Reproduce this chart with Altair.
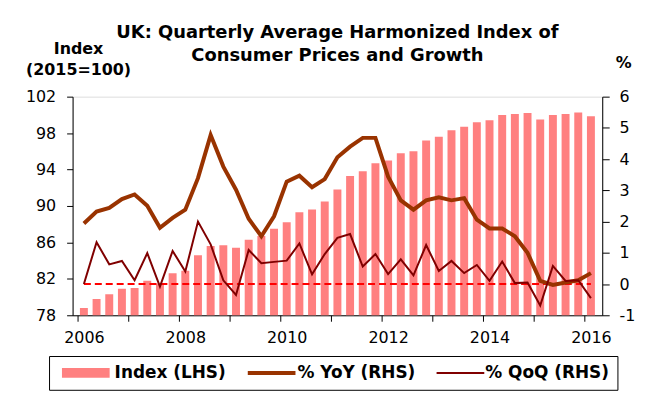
import altair as alt
import pandas as pd

# ---- data ----
years = list(range(2006, 2017))
quarters = [f"{y}Q{q}" for y in years for q in range(1, 5)][:41]  # 2006Q1 .. 2016Q1

index_lhs = [78.8, 79.8, 80.3, 80.9, 81.0, 81.8, 81.5, 82.6, 82.9, 84.6,
             85.6, 85.7, 85.4, 86.3, 86.7, 87.5, 88.2, 89.3, 89.6, 90.5,
             91.8, 93.3, 93.8, 94.7, 95.0, 95.8, 96.0, 97.2, 97.6, 98.3,
             98.7, 99.2, 99.4, 100.0, 100.1, 100.2, 99.5, 100.0, 100.1, 100.25,
             99.85]
yoy = [1.94, 2.32, 2.44, 2.72, 2.87, 2.51, 1.80, 2.12, 2.38, 3.39,
       4.77, 3.76, 3.02, 2.09, 1.53, 2.17, 3.28, 3.47, 3.10, 3.36,
       4.06, 4.40, 4.68, 4.68, 3.44, 2.68, 2.38, 2.68, 2.78, 2.68,
       2.75, 2.06, 1.78, 1.78, 1.53, 1.00, 0.10, -0.03, 0.05, 0.12,
       0.35]
qoq = [0.00, 1.34, 0.63, 0.74, 0.12, 0.99, -0.08, 1.06, 0.40, 2.00,
       1.27, 0.12, -0.35, 1.09, 0.67, 0.71, 0.75, 1.30, 0.31, 0.96,
       1.48, 1.60, 0.56, 0.96, 0.32, 0.79, 0.28, 1.25, 0.42, 0.74,
       0.35, 0.61, 0.10, 0.72, 0.03, 0.05, -0.69, 0.58, 0.10, 0.12,
       -0.45]

series_names = ["Index (LHS)", "% YoY (RHS)", "% QoQ (RHS)"]
series_colors = ["#FF8080", "#993300", "#800000"]
series_widths = [10, 4, 2]

left_ticks = [78, 82, 86, 90, 94, 98, 102]
right_ticks = [-1, 0, 1, 2, 3, 4, 5, 6]
year_labels = [2006, 2008, 2010, 2012, 2014, 2016]

# ---- tables ----
t = [int(q[:4]) + (int(q[-1]) - 1) / 4 for q in quarters]
bars_df = pd.DataFrame({"t": t, "value": index_lhs})
lines_df = pd.concat([
    pd.DataFrame({"t": t, "value": yoy, "series": series_names[1]}),
    pd.DataFrame({"t": t, "value": qoq, "series": series_names[2]}),
])
zero_df = pd.DataFrame({"t0": [t[0]], "t1": [t[-1]], "z": [0]})

FONT = "DejaVu Sans"
x_domain = [t[0] - 0.125, t[-1] + 0.125]
x_scale = alt.Scale(domain=x_domain, nice=False, zero=False)
year_bounds = [y - 0.125 for y in years]  # tick marks between Q4 and Q1

# axis with the year labels only
label_axis = alt.Axis(
    orient="bottom", values=year_labels, format="d", ticks=False, tickSize=0,
    domain=False, labelPadding=14, labelFont=FONT, labelFontSize=16,
    labelColor="black", grid=False, title=None, labelOverlap=False, labelFlush=False,
)
# axis with the domain line and the tick marks between years
tick_axis = alt.Axis(
    orient="bottom", values=year_bounds, labels=False, ticks=True, tickSize=6,
    tickColor="black", domainColor="black", grid=False, title=None,
)

bars = alt.Chart(bars_df).mark_bar(size=8, color=series_colors[0], clip=True).encode(
    x=alt.X("t:Q", scale=x_scale, axis=label_axis),
    y=alt.Y("value:Q",
            scale=alt.Scale(domain=[78, 102], nice=False, zero=False),
            axis=alt.Axis(orient="left", values=left_ticks, tickSize=6, labelPadding=11,
                          tickColor="black", domainColor="black", grid=False,
                          labelFont=FONT, labelFontSize=16, labelColor="black",
                          title=["Index", "(2015=100)"], titleAngle=0, titleAlign="center",
                          titleBaseline="alphabetic", titleX=5.5, titleY=-43,
                          titleLineHeight=21, titleFont=FONT, titleFontSize=16,
                          titleFontWeight="bold", titleColor="black")),
)

zero_line = alt.Chart(zero_df).mark_rule(color="#FF0000", strokeWidth=2, strokeDash=[7, 4]).encode(
    x=alt.X("t0:Q", scale=x_scale, axis=tick_axis),
    x2="t1:Q",
    y=alt.Y("z:Q", scale=alt.Scale(domain=[-1, 6], nice=False, zero=False), axis=None),
)

legend = alt.Legend(
    orient="none", legendX=-23.7, legendY=261, direction="horizontal",
    title=None, symbolType="stroke", symbolSize=2304, labelFont=FONT,
    labelFontSize=17, labelFontWeight="bold", labelColor="black",
    strokeColor="black", padding=8, columnPadding=20, labelOffset=0,
    labelLimit=300, clipHeight=18,
)

lines = alt.Chart(lines_df).mark_line().encode(
    x=alt.X("t:Q", scale=x_scale, axis=None),
    y=alt.Y("value:Q",
            scale=alt.Scale(domain=[-1, 6], nice=False, zero=False),
            axis=alt.Axis(orient="right", values=right_ticks, tickSize=7, labelPadding=10,
                          labelExpr="replace(datum.label, '\u2212', '-')",
                          tickColor="black", domainColor="black", grid=False,
                          labelFont=FONT, labelFontSize=16, labelColor="black",
                          title="%", titleAngle=0, titleAlign="center",
                          titleBaseline="alphabetic", titleX=21, titleY=-29,
                          titleFont=FONT, titleFontSize=16, titleFontWeight="bold",
                          titleColor="black")),
    stroke=alt.Stroke("series:N", scale=alt.Scale(domain=series_names, range=series_colors),
                      legend=legend),
    strokeWidth=alt.StrokeWidth("series:N",
                                scale=alt.Scale(type="ordinal", domain=series_names, range=series_widths),
                                legend=legend),
)

chart = alt.layer(bars, zero_line, lines).resolve_scale(y="independent").resolve_axis(
    x="independent"
).properties(
    width=533, height=220,
    autosize=alt.AutoSizeParams(type="none"),
    padding={"left": 65, "top": 88, "right": 36, "bottom": 77},
    title=alt.TitleParams(
        text=["UK: Quarterly Average Harmonized Index of", "Consumer Prices and Growth"],
        anchor="middle", font=FONT, fontSize=18, fontWeight="bold", color="black",
        lineHeight=23, offset=0, dy=24,
    ),
).configure_view(stroke=None).configure(background="white")

chart.save("out.html", embed_options={"renderer": "svg", "actions": False})
